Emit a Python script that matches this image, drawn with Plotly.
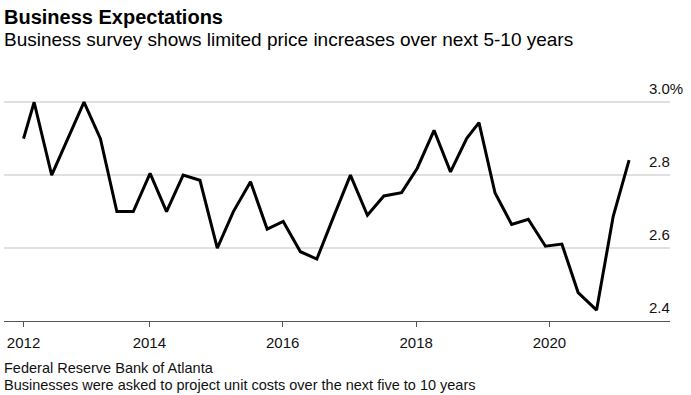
import plotly.graph_objects as go

# ---- data ----
dates = [
    "2012-02-12", "2012-04-10", "2012-07-15", "2012-10-10",
    "2013-01-08", "2013-04-08", "2013-07-07", "2013-10-05",
    "2014-01-05", "2014-04-05", "2014-07-05", "2014-10-05",
    "2015-01-08", "2015-04-06", "2015-07-09", "2015-10-08",
    "2016-01-04", "2016-04-07", "2016-07-06", "2016-10-05",
    "2017-01-06", "2017-04-09", "2017-07-08", "2017-10-13",
    "2018-01-07", "2018-04-09", "2018-07-08", "2018-10-05",
    "2018-12-11", "2019-03-09", "2019-06-08", "2019-09-07",
    "2019-12-10", "2020-03-09", "2020-06-06", "2020-09-15",
    "2020-12-15", "2021-03-12",
]
values = [
    2.90, 3.00, 2.80, 2.90,
    3.00, 2.90, 2.70, 2.70,
    2.805, 2.70, 2.80, 2.786,
    2.60, 2.70, 2.782, 2.652,
    2.673, 2.59, 2.57, 2.685,
    2.80, 2.69, 2.743, 2.752,
    2.819, 2.923, 2.809, 2.901,
    2.944, 2.751, 2.665, 2.679,
    2.605, 2.611, 2.478, 2.43,
    2.687, 2.841,
]
x_tick_vals = [dates[0], "2014-01-01", "2016-01-01", "2018-01-01", "2020-01-01"]
x_tick_text = ["2012", "2014", "2016", "2018", "2020"]
y_tick_vals = [2.4, 2.6, 2.8, 3.0]
y_tick_text = ["2.4", "2.6", "2.8", "3.0%"]

title = "Business Expectations"
subtitle = "Business survey shows limited price increases over next 5-10 years"
source = "Federal Reserve Bank of Atlanta"
note = "Businesses were asked to project unit costs over the next five to 10 years"

# ---- layout geometry (pixels) ----
W, H = 691, 395
PL, PR, PT, PB = 4, 670, 84.3, 321.0
FONT = "Liberation Sans, Arial, sans-serif"


def px_x(x):
    return (x - PL) / (PR - PL)


def px_y(y):
    return (PB - y) / (PB - PT)


fig = go.Figure()
fig.add_trace(go.Scatter(
    x=dates, y=values, mode="lines",
    line=dict(color="#000000", width=3),
    hoverinfo="x+y", showlegend=False,
))

annotations = []
for v, t in zip(y_tick_vals, y_tick_text):
    annotations.append(dict(
        x=px_x(647), xref="paper", xanchor="left",
        y=v, yref="y", yanchor="middle", yshift=14,
        text=t, showarrow=False,
        font=dict(family=FONT, size=15, color="#111111"),
    ))

annotations += [
    dict(x=px_x(2), xref="paper", xanchor="left",
         y=px_y(17), yref="paper", yanchor="middle",
         text="<b>" + title + "</b>", showarrow=False,
         font=dict(family=FONT, size=20, color="#000000")),
    dict(x=px_x(2), xref="paper", xanchor="left",
         y=px_y(39.5), yref="paper", yanchor="middle",
         text=subtitle, showarrow=False,
         font=dict(family=FONT, size=19, color="#000000")),
    dict(x=px_x(2), xref="paper", xanchor="left",
         y=px_y(367.5), yref="paper", yanchor="middle",
         text=source, showarrow=False,
         font=dict(family=FONT, size=14.5, color="#111111")),
    dict(x=px_x(2), xref="paper", xanchor="left",
         y=px_y(384.5), yref="paper", yanchor="middle",
         text=note, showarrow=False,
         font=dict(family=FONT, size=14.5, color="#111111")),
]

fig.update_layout(
    width=W, height=H,
    margin=dict(l=PL, r=W - PR, t=PT, b=H - PB),
    paper_bgcolor="white", plot_bgcolor="white",
    font=dict(family=FONT, size=13, color="#111111"),
    annotations=annotations,
    xaxis=dict(
        type="date",
        range=["2011-10-28", "2021-10-22"],
        tickmode="array", tickvals=x_tick_vals, ticktext=x_tick_text,
        ticks="outside", ticklen=5, tickcolor="#555555", tickwidth=1,
        showline=True, linecolor="#555555", linewidth=1,
        showgrid=False, zeroline=False,
        tickfont=dict(family=FONT, size=15, color="#111111"),
        ticklabelstandoff=3,
        fixedrange=True,
    ),
    yaxis=dict(
        range=[2.4, 3.05],
        tickmode="array", tickvals=y_tick_vals,
        showticklabels=False, ticks="",
        showgrid=True, gridcolor="#e0e0e0", gridwidth=1.5,
        zeroline=False, showline=False,
        fixedrange=True,
    ),
)

fig.write_html(
    "out.html",
    config={"displayModeBar": False},
    post_script="document.body.style.margin='0';",
)
